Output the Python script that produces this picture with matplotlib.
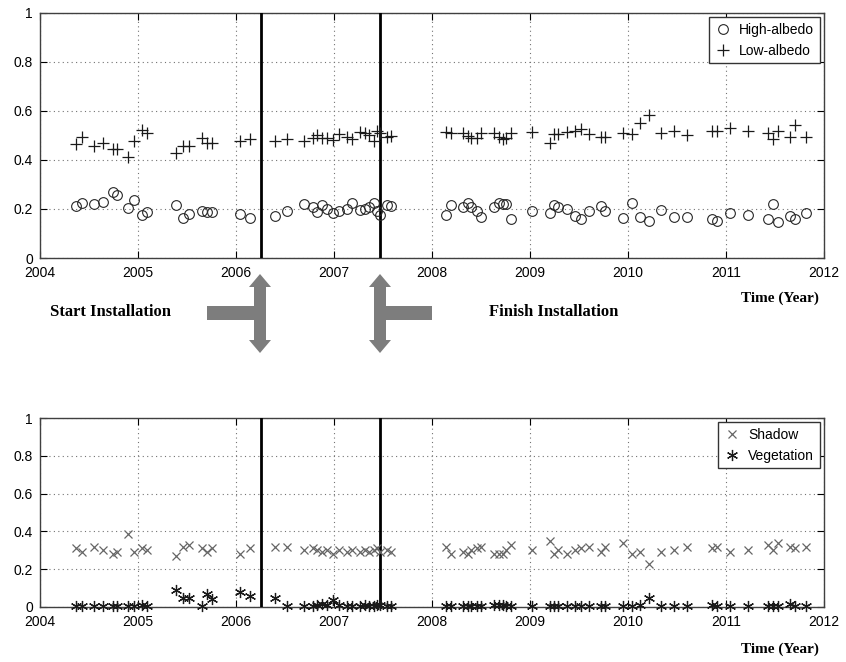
import numpy as np
import matplotlib
matplotlib.use("Agg")
import matplotlib.pyplot as plt
import matplotlib.patches as mpatches
from matplotlib.ticker import FormatStrFormatter

# Acquisition dates (decimal year), shared by all four classes
dates = [2004.37, 2004.43, 2004.55, 2004.64, 2004.74, 2004.79, 2004.90, 2004.96, 2005.04, 2005.09,
         2005.39, 2005.46, 2005.52, 2005.65, 2005.70, 2005.75,
         2006.04, 2006.14, 2006.40, 2006.52,
         2006.69, 2006.79, 2006.83, 2006.88, 2006.93, 2006.99, 2007.05, 2007.13, 2007.18, 2007.27,
         2007.32, 2007.36, 2007.41, 2007.44, 2007.47, 2007.54, 2007.58,
         2008.14, 2008.19, 2008.32, 2008.37, 2008.40, 2008.46, 2008.50, 2008.63, 2008.68, 2008.72,
         2008.76, 2008.81, 2009.02,
         2009.20, 2009.24, 2009.29, 2009.38, 2009.46, 2009.52, 2009.60, 2009.72, 2009.77, 2009.95,
         2010.04, 2010.12, 2010.21, 2010.34, 2010.47, 2010.60, 2010.86, 2010.91, 2011.04, 2011.22,
         2011.43, 2011.48, 2011.53, 2011.65, 2011.70, 2011.82]

highAlbedo = [.212, .223, .219, .230, .268, .257, .203, .237, .176, .189,
              .216, .165, .180, .193, .189, .189,
              .180, .162, .171, .193,
              .219, .207, .187, .216, .200, .185, .193, .199, .223, .196,
              .199, .210, .223, .192, .176, .216, .212,
              .176, .216, .207, .226, .210, .192, .169, .207, .223, .220,
              .220, .158, .193,
              .182, .216, .207, .199, .171, .158, .193, .212, .193, .162,
              .223, .166, .152, .196, .166, .166, .158, .152, .182, .176,
              .158, .220, .148, .173, .158, .185]

lowAlbedo = [.465, .493, .457, .468, .444, .444, .413, .479, .522, .511,
             .430, .457, .457, .488, .468, .468,
             .479, .484, .478, .484,
             .479, .488, .502, .488, .488, .482, .506, .495, .484, .516,
             .509, .502, .479, .520, .509, .495, .498,
             .516, .511, .509, .498, .488, .488, .511, .509, .495, .484,
             .488, .511, .516,
             .471, .506, .506, .516, .520, .525, .506, .493, .493, .509,
             .506, .550, .584, .509, .520, .502, .520, .520, .529, .520,
             .511, .484, .520, .493, .543, .493]

shadow = [.31, .29, .32, .30, .28, .29, .385, .29, .31, .30,
          .27, .32, .33, .31, .29, .31,
          .28, .31, .32, .32,
          .30, .31, .30, .29, .30, .28, .30, .29, .30, .29,
          .30, .29, .30, .31, .29, .30, .29,
          .32, .28, .29, .28, .30, .31, .32, .28, .28, .28,
          .30, .33, .30,
          .35, .28, .30, .28, .30, .31, .32, .29, .32, .34,
          .28, .29, .23, .29, .30, .32, .31, .32, .29, .30,
          .33, .30, .34, .32, .31, .32]

vegetation = [.005, .005, .005, .005, .005, .005, .005, .005, .010, .005,
              .090, .050, .050, .005, .070, .040,
              .080, .060, .045, .005,
              .005, .005, .010, .015, .010, .035, .010, .005, .005, .005,
              .010, .005, .005, .010, .010, .005, .005,
              .005, .005, .005, .005, .005, .005, .005, .010, .010, .010,
              .005, .005, .005,
              .005, .005, .005, .005, .005, .005, .005, .005, .005, .005,
              .005, .010, .045, .005, .005, .005, .010, .005, .005, .005,
              .005, .005, .005, .015, .005, .005]

installStart = 2006.25
installFinish = 2007.47

xTicks = list(range(2004, 2013))
yTicks = [0, 0.2, 0.4, 0.6, 0.8, 1.0]

fig = plt.figure(figsize=(8.46, 6.62), dpi=100)
axTop = fig.add_axes([40 / 846, 1 - 258 / 662, 784 / 846, 245 / 662])
axBot = fig.add_axes([40 / 846, 1 - 607 / 662, 784 / 846, 189 / 662])


def styleAxes(ax):
    ax.set_xlim(2004, 2012)
    ax.set_ylim(0, 1)
    ax.set_xticks(xTicks)
    ax.set_yticks(yTicks)
    ax.yaxis.set_major_formatter(FormatStrFormatter('%g'))
    ax.grid(True, linestyle=(0, (1, 3)), color='0.45', lw=0.8)
    ax.tick_params(direction='in', top=True, right=True, length=5, labelsize=10, colors='black')
    ax.tick_params(axis='x', pad=6)
    ax.tick_params(axis='y', pad=5)
    for sp in ax.spines.values():
        sp.set_color('0.25')
        sp.set_linewidth(1.0)
    for lbl in ax.get_xticklabels() + ax.get_yticklabels():
        lbl.set_family('Liberation Sans')
    ax.axvline(installStart, color='black', lw=2, zorder=4)
    ax.axvline(installFinish, color='black', lw=2, zorder=4)


legendKw = dict(loc='upper right', fancybox=False, edgecolor='0.2', framealpha=1,
                borderaxespad=0.3, handletextpad=0.6, handlelength=1.2,
                prop={'family': 'Liberation Sans', 'size': 10})

# Upper panel: albedo classes
axTop.plot(dates, highAlbedo, 'o', mfc='none', mec='0.15', ms=7, mew=0.8,
           label='High-albedo', zorder=5, clip_on=False)
axTop.plot(dates, lowAlbedo, '+', color='0.1', ms=8, mew=0.9,
           label='Low-albedo', zorder=5, clip_on=False)
styleAxes(axTop)
axTop.legend(**legendKw)

# Lower panel: shadow and vegetation
axBot.plot(dates, shadow, 'x', color='0.4', ms=6, mew=0.9,
           label='Shadow', zorder=5, clip_on=False)
axBot.plot(dates, vegetation, marker=(6, 2, 0), ls='none', color='0.1', ms=8, mew=0.9,
           label='Vegetation', zorder=5, clip_on=False)
styleAxes(axBot)
axBot.legend(**legendKw)

fig.text(780 / 846, 1 - 298 / 662, 'Time (Year)', ha='center', va='center',
         family='Liberation Serif', fontweight='bold', fontsize=11)
fig.text(780 / 846, 1 - 649 / 662, 'Time (Year)', ha='center', va='center',
         family='Liberation Serif', fontweight='bold', fontsize=11)
fig.text(110 / 846, 1 - 312 / 662, 'Start Installation', ha='center', va='center',
         family='Liberation Serif', fontweight='bold', fontsize=12)
fig.text(554 / 846, 1 - 312 / 662, 'Finish Installation', ha='center', va='center',
         family='Liberation Serif', fontweight='bold', fontsize=12)

# Overlay in pixel coordinates for the T-shaped arrows
overlay = fig.add_axes([0, 0, 1, 1], zorder=10)
overlay.set_xlim(0, 846)
overlay.set_ylim(662, 0)
overlay.axis('off')
arrowGray = '#7d7d7d'


def tArrow(xc, yc, barX0, barX1):
    overlay.add_patch(mpatches.Rectangle((barX0, yc - 7), barX1 - barX0, 14, color=arrowGray, lw=0))
    for dy in (-39, 40):
        overlay.add_patch(mpatches.FancyArrow(xc, yc, 0, dy, width=12, head_width=22, head_length=13,
                                              length_includes_head=True, color=arrowGray, lw=0))


tArrow(260, 313, 207, 262)
tArrow(380, 313, 378, 432)

fig.savefig('out.png', dpi=100)
